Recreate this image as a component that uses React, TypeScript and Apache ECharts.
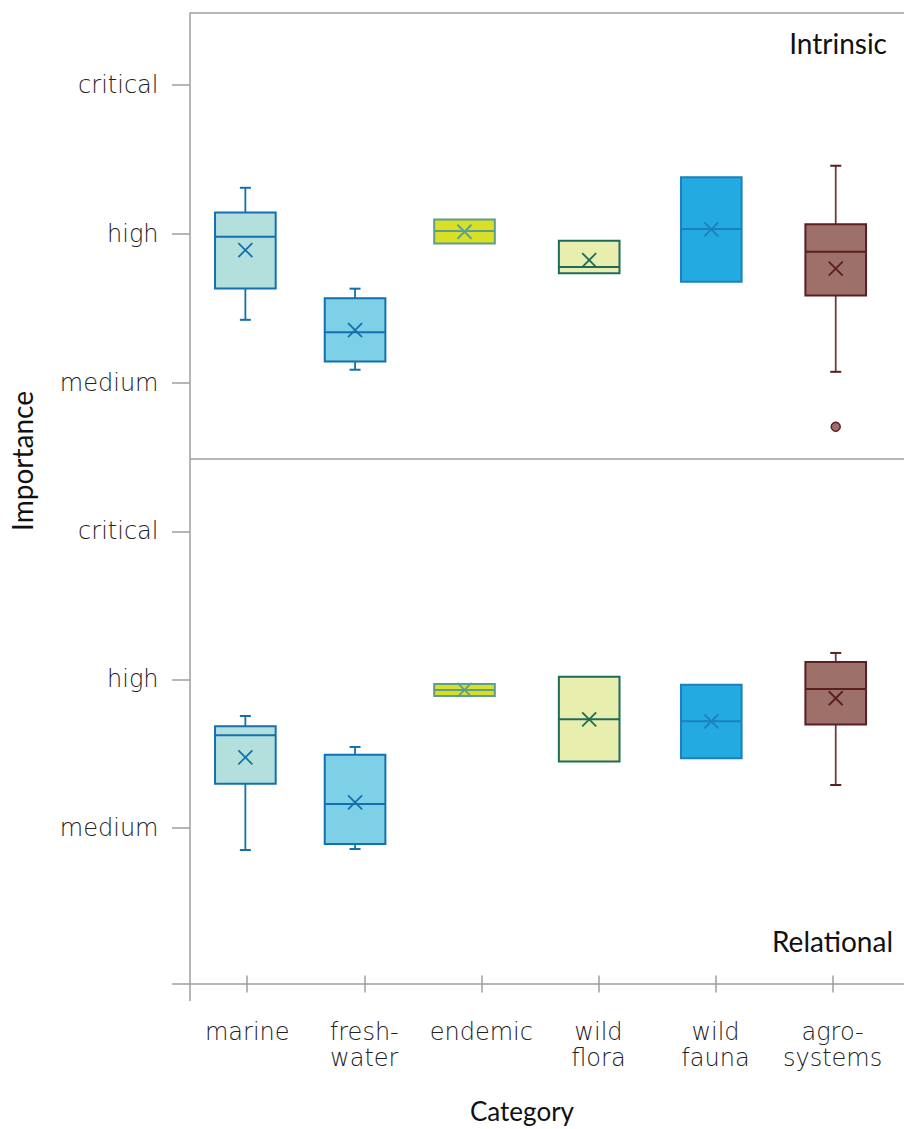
import React, { useEffect, useRef } from "react";
import * as echarts from "echarts";

// ---------- data ----------
const categories = ["marine", "fresh-\nwater", "endemic", "wild\nflora", "wild\nfauna", "agro-\nsystems"];
const levelValues = [1, 2, 3];
const levelLabels = ["medium", "high", "critical"];

// Intrinsic panel (1 = medium, 2 = high, 3 = critical)
const intrinsicMin = [1.421, 1.086, 1.934, 1.733, 1.677, 1.072];
const intrinsicQ1 = [1.632, 1.142, 1.934, 1.733, 1.677, 1.585];
const intrinsicMedian = [1.979, 1.337, 2.017, 1.775, 2.030, 1.878];
const intrinsicQ3 = [2.142, 1.565, 2.095, 1.952, 2.377, 2.062];
const intrinsicMax = [2.307, 1.630, 2.095, 1.952, 2.377, 2.455];
const intrinsicMean = [1.889, 1.352, 2.012, 1.822, 2.028, 1.764];
const intrinsicOutliers = [[5, 0.703]];

// Relational panel
const relationalMin = [0.848, 0.855, 1.889, 1.445, 1.468, 1.287];
const relationalQ1 = [1.296, 0.889, 1.889, 1.445, 1.468, 1.695];
const relationalMedian = [1.623, 1.159, 1.929, 1.731, 1.717, 1.936];
const relationalQ3 = [1.684, 1.492, 1.970, 2.019, 1.965, 2.118];
const relationalMax = [1.753, 1.544, 1.970, 2.019, 1.965, 2.179];
const relationalMean = [1.474, 1.170, 1.929, 1.731, 1.717, 1.873];
const relationalOutliers: number[][] = [];

// ---------- styles ----------
const fills = ["#b3e0dd", "#7dd0e6", "#d8df24", "#e8eeae", "#23aae1", "#9e706a"];
const strokes = ["#1370ae", "#1370ae", "#5f9e8c", "#1f6b5a", "#1d80bd", "#5a1e23"];
const whiskerColors = ["#1370ae", "#1370ae", "#5f9e8c", "#1f6b5a", "#1d80bd", "#6e3a3d"];
const boxShift = [-0.016, -0.079, -0.144, -0.079, -0.036, 0.027]; // in band units
const boxWidthRatio = 0.518;
const capWidth = 11;
const crossHalf = 7;

const FONT = 'Lato, "Noto Sans", sans-serif';
const TICK_FONT = '"DejaVu Sans ExtraLight", "DejaVu Sans", sans-serif';
const AXIS_GRAY = "#9e9e9e";

function buildRows(mn: number[], q1: number[], md: number[], q3: number[], mx: number[], mean: number[]) {
  return categories.map((_, i) => [i, mn[i], q1[i], md[i], q3[i], mx[i], mean[i]]);
}

function boxRender(params: any, api: any) {
  const i = api.value(0);
  const band = api.size([1, 0])[0];
  const cx = api.coord([i, 0])[0] + boxShift[i] * band;
  const w = band * boxWidthRatio;
  const y = (v: number) => api.coord([i, v])[1];
  const yMin = y(api.value(1));
  const yQ1 = y(api.value(2));
  const yMd = y(api.value(3));
  const yQ3 = y(api.value(4));
  const yMax = y(api.value(5));
  const yMean = y(api.value(6));
  const stroke = strokes[i];
  const wc = whiskerColors[i];
  const children: any[] = [];
  if (yMax < yQ3 - 0.5) {
    children.push({ type: "line", shape: { x1: cx, y1: yQ3, x2: cx, y2: yMax }, style: { stroke: wc, lineWidth: 1.8 } });
    children.push({ type: "line", shape: { x1: cx - capWidth / 2, y1: yMax, x2: cx + capWidth / 2, y2: yMax }, style: { stroke: stroke, lineWidth: 2 } });
  }
  if (yMin > yQ1 + 0.5) {
    children.push({ type: "line", shape: { x1: cx, y1: yQ1, x2: cx, y2: yMin }, style: { stroke: wc, lineWidth: 1.8 } });
    children.push({ type: "line", shape: { x1: cx - capWidth / 2, y1: yMin, x2: cx + capWidth / 2, y2: yMin }, style: { stroke: stroke, lineWidth: 2 } });
  }
  children.push({ type: "rect", shape: { x: cx - w / 2, y: yQ3, width: w, height: yQ1 - yQ3 }, style: { fill: fills[i], stroke: stroke, lineWidth: 2 } });
  children.push({ type: "line", shape: { x1: cx - w / 2, y1: yMd, x2: cx + w / 2, y2: yMd }, style: { stroke: stroke, lineWidth: 2 } });
  children.push({ type: "line", shape: { x1: cx - crossHalf, y1: yMean - crossHalf, x2: cx + crossHalf, y2: yMean + crossHalf }, style: { stroke: stroke, lineWidth: 1.8 } });
  children.push({ type: "line", shape: { x1: cx - crossHalf, y1: yMean + crossHalf, x2: cx + crossHalf, y2: yMean - crossHalf }, style: { stroke: stroke, lineWidth: 1.8 } });
  return { type: "group", children };
}

function outlierRender(params: any, api: any) {
  const i = api.value(0);
  const band = api.size([1, 0])[0];
  const cx = api.coord([i, 0])[0] + boxShift[i] * band;
  const cy = api.coord([i, api.value(1)])[1];
  return { type: "circle", shape: { cx, cy, r: 4.5 }, style: { fill: fills[i], stroke: strokes[i], lineWidth: 1.5 } };
}

function yAxisCfg(gridIndex: number, min: number, max: number) {
  return {
    type: "value",
    gridIndex,
    min,
    max,
    offset: -1.3,
    axisLine: { show: false },
    splitLine: { show: false },
    axisTick: { show: true, length: 18, customValues: levelValues, lineStyle: { color: AXIS_GRAY, width: 1.5 } },
    axisLabel: {
      customValues: levelValues,
      formatter: (v: number) => levelLabels[Math.round(v) - 1],
      margin: 31.5,
      fontSize: 24,
      fontFamily: TICK_FONT,
      fontWeight: 200,
      color: "#222",
      padding: [3, 0, 0, 0],
    },
  };
}

export default function App() {
  const ref = useRef<HTMLDivElement>(null);
  useEffect(() => {
    if (!ref.current) return;
    const chart = echarts.init(ref.current, undefined, { renderer: "svg" });
    const option: any = {
      animation: false,
      backgroundColor: "#ffffff",
      grid: [
        { left: 188.7, top: 13, width: 702.4, height: 446 },
        { left: 188.7, top: 459, width: 702.4, height: 525 },
      ],
      xAxis: [
        { type: "category", gridIndex: 0, data: categories, show: false },
        {
          type: "category",
          gridIndex: 1,
          data: categories,
          axisLine: { show: false },
          axisTick: { show: true, alignWithLabel: true, length: 17, lineStyle: { color: AXIS_GRAY, width: 1.5 } },
          axisLabel: { margin: 35, fontSize: 24, lineHeight: 26, color: "#222", fontFamily: TICK_FONT, fontWeight: 200, interval: 0 },
        },
      ],
      yAxis: [yAxisCfg(0, 0.487, 3.48), yAxisCfg(1, -0.057, 3.489)],
      series: [
        {
          type: "custom",
          xAxisIndex: 0,
          yAxisIndex: 0,
          renderItem: boxRender,
          encode: { x: 0, y: [1, 2, 3, 4, 5, 6] },
          data: buildRows(intrinsicMin, intrinsicQ1, intrinsicMedian, intrinsicQ3, intrinsicMax, intrinsicMean),
          clip: false,
        },
        {
          type: "custom",
          xAxisIndex: 0,
          yAxisIndex: 0,
          renderItem: outlierRender,
          encode: { x: 0, y: 1 },
          data: intrinsicOutliers,
        },
        {
          type: "custom",
          xAxisIndex: 1,
          yAxisIndex: 1,
          renderItem: boxRender,
          encode: { x: 0, y: [1, 2, 3, 4, 5, 6] },
          data: buildRows(relationalMin, relationalQ1, relationalMedian, relationalQ3, relationalMax, relationalMean),
          clip: false,
        },
        {
          type: "custom",
          xAxisIndex: 1,
          yAxisIndex: 1,
          renderItem: outlierRender,
          encode: { x: 0, y: 1 },
          data: relationalOutliers,
        },
      ],
      graphic: [
        { type: "line", shape: { x1: 190, y1: 12.5, x2: 190, y2: 1001 }, style: { stroke: AXIS_GRAY, lineWidth: 1.5 } },
        { type: "line", shape: { x1: 190, y1: 13, x2: 904, y2: 13 }, style: { stroke: AXIS_GRAY, lineWidth: 1.5 } },
        { type: "line", shape: { x1: 190, y1: 459, x2: 904, y2: 459 }, style: { stroke: AXIS_GRAY, lineWidth: 1.5 } },
        { type: "line", shape: { x1: 172, y1: 984, x2: 904, y2: 984 }, style: { stroke: AXIS_GRAY, lineWidth: 1.5 } },
        {
          type: "text",
          x: 22,
          y: 461,
          rotation: Math.PI / 2,
          style: { text: "Importance", fontSize: 28, fontFamily: FONT, fill: "#111", align: "center", verticalAlign: "middle" },
        },
        {
          type: "text",
          x: 522,
          y: 1111,
          style: { text: "Category", fontSize: 26, fontFamily: FONT, fill: "#111", align: "center", verticalAlign: "middle" },
        },
        {
          type: "text",
          x: 887,
          y: 43,
          style: { text: "Intrinsic", fontSize: 28, fontFamily: FONT, fill: "#111", align: "right", verticalAlign: "middle" },
        },
        {
          type: "text",
          x: 893,
          y: 941,
          style: { text: "Relational", fontSize: 28, fontFamily: FONT, fill: "#111", align: "right", verticalAlign: "middle" },
        },
      ],
    };
    chart.setOption(option);
    return () => chart.dispose();
  }, []);
  return (
    <div
      ref={ref}
      style={{ position: "fixed", left: 0, top: 0, width: 904, height: 1129, background: "#fff" }}
    />
  );
}
